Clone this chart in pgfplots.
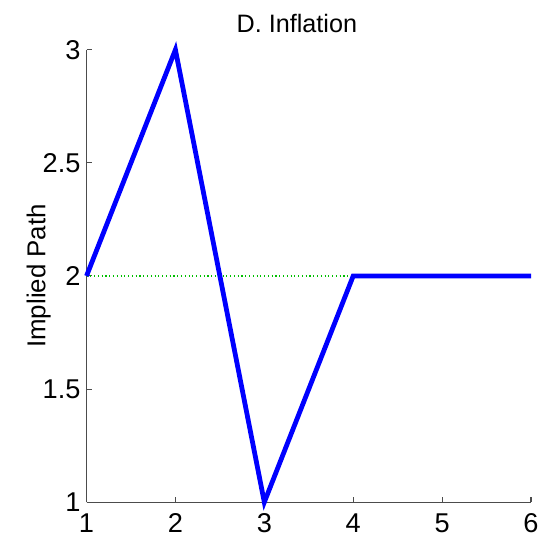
\documentclass[border=0pt]{standalone}
\usepackage{fontspec}
\setmainfont{Liberation Sans}
\usepackage{pgfplots}
\pgfplotsset{compat=1.18}

\begin{document}
\begin{tikzpicture}
\begin{axis}[
  width=335.25pt, height=341.25pt, scale only axis,
  xmin=1, xmax=6, ymin=1, ymax=3,
  axis x line*=bottom, axis y line*=left,
  axis line style={black!70, line width=0.8pt},
  xtick={1,2,3,4,5,6},
  ytick={1,1.5,2,2.5,3},
  tick align=inside, major tick length=4pt,
  tick style={black!70, line width=0.8pt},
  ticklabel style={font=\fontsize{20.5}{24}\selectfont},
  /pgf/number format/assume math mode=true,
  yticklabel style={xshift=-1pt},
  xticklabel style={yshift=-5pt},
  title={D. Inflation},
  title style={font=\fontsize{19}{23}\selectfont, yshift=3pt, xshift=-9pt},
  ylabel={Implied Path},
  ylabel style={font=\fontsize{19.5}{23}\selectfont, yshift=-13pt},
  clip=false,
]
\addplot[green!75!black, dotted, line width=0.85pt] coordinates {(1,2) (6,2)};
\addplot[blue, line width=3.6pt, line join=miter] coordinates {
  (1,2) (2,3) (3,1) (4,2) (5,2) (6,2)};
\end{axis}
\useasboundingbox ([shift={(-65.25pt,-28.5pt)}]current axis.south west)
  rectangle ([shift={(6.75pt,37.5pt)}]current axis.north east);
\end{tikzpicture}
\end{document}
